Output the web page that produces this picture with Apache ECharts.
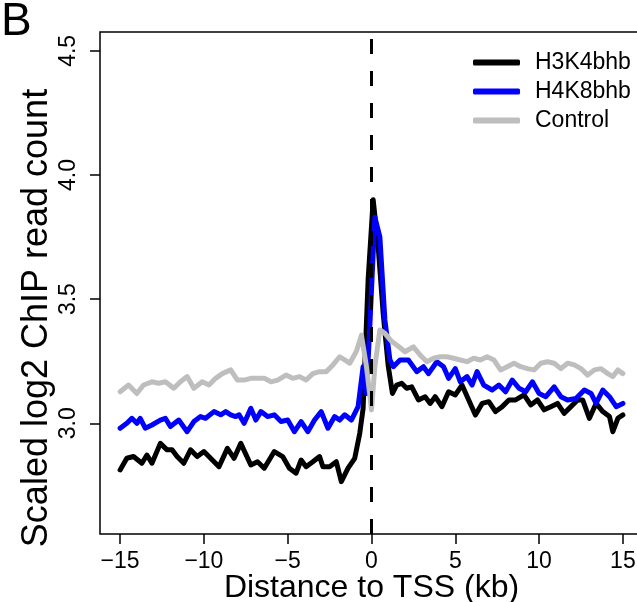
<!DOCTYPE html>
<html>
<head>
<meta charset="utf-8">
<script src="https://cdn.jsdelivr.net/npm/echarts@6/dist/echarts.min.js"></script>
<style>html,body{margin:0;padding:0;background:#fff;}#c{width:637px;height:602px;}</style>
</head>
<body>
<div id="c"></div>
<script>
// ---- data ----
const xTicks = [-15, -10, -5, 0, 5, 10, 15];
const yTicks = [3.0, 3.5, 4.0, 4.5];
const seriesNames = ['H3K4bhb', 'H4K8bhb', 'Control'];

const h3x = [-15,-14.6,-14.2,-13.7,-13.4,-13.1,-12.6,-12.2,-11.9,-11.6,-11.2,-10.8,-10.4,-10.0,-9.6,-9.1,-8.6,-8.2,-7.8,-7.2,-6.8,-6.4,-5.8,-5.3,-4.9,-4.5,-4.2,-3.9,-3.5,-3.1,-2.9,-2.5,-2.1,-1.8,-1.4,-1.0,-0.7,-0.5,-0.2,0.1,0.4,0.7,1.0,1.25,1.5,1.8,2.1,2.4,2.8,3.2,3.5,3.8,4.2,4.6,5.0,5.4,5.8,6.2,6.6,7.0,7.4,7.8,8.2,8.6,9.1,9.5,9.9,10.3,10.7,11.1,11.5,11.9,12.3,12.6,13.0,13.4,13.8,14.2,14.4,14.7,15.0];
const h3y = [2.812,2.859,2.866,2.839,2.872,2.839,2.919,2.893,2.893,2.866,2.839,2.893,2.866,2.886,2.859,2.825,2.899,2.859,2.919,2.832,2.845,2.819,2.886,2.866,2.819,2.799,2.852,2.825,2.845,2.866,2.825,2.825,2.845,2.765,2.819,2.859,2.96,3.06,3.58,3.90,3.71,3.44,3.23,3.12,3.154,3.161,3.141,3.147,3.094,3.107,3.08,3.107,3.067,3.127,3.114,3.154,3.094,3.033,3.08,3.087,3.047,3.067,3.094,3.094,3.114,3.074,3.094,3.054,3.067,3.08,3.04,3.067,3.094,3.094,3.02,3.08,3.047,3.027,2.966,3.02,3.034];

const h4x = [-15,-14.6,-14.3,-14.0,-13.8,-13.5,-13.1,-12.6,-12.3,-12.0,-11.5,-11.0,-10.6,-10.2,-9.9,-9.4,-9.0,-8.7,-8.4,-8.1,-7.9,-7.6,-7.2,-6.9,-6.6,-6.2,-5.8,-5.4,-5.0,-4.6,-4.2,-3.8,-3.4,-3.0,-2.6,-2.2,-1.9,-1.6,-1.2,-0.8,-0.5,-0.3,-0.1,0.2,0.5,0.8,1.1,1.3,1.7,2.2,2.7,3.1,3.4,3.9,4.3,4.6,5.0,5.3,5.7,6.0,6.3,6.7,7.2,7.6,8.0,8.4,8.8,9.2,9.6,10.0,10.4,10.9,11.3,11.7,12.2,12.7,13.1,13.4,13.8,14.2,14.6,15.0];
const h4y = [2.98,3.0,3.02,3.0,3.02,2.98,2.993,3.013,3.02,2.987,3.013,2.966,3.007,3.027,3.02,3.047,3.034,3.047,3.034,3.027,3.034,3.0,3.06,3.013,3.047,3.027,3.034,3.007,3.013,2.966,3.007,2.966,3.013,3.047,2.98,3.027,3.013,3.034,3.013,3.067,3.228,3.12,3.39,3.83,3.751,3.416,3.255,3.228,3.255,3.255,3.208,3.228,3.2,3.248,3.228,3.181,3.22,3.167,3.188,3.154,3.208,3.154,3.134,3.154,3.127,3.174,3.141,3.127,3.167,3.12,3.107,3.147,3.107,3.094,3.1,3.134,3.12,3.08,3.134,3.107,3.067,3.08];

const ctx = [-15,-14.5,-14.0,-13.6,-13.1,-12.7,-12.3,-11.8,-11.4,-11.0,-10.6,-10.1,-9.7,-9.3,-8.9,-8.4,-8.0,-7.6,-7.2,-6.8,-6.4,-6.0,-5.6,-5.1,-4.7,-4.3,-3.9,-3.5,-3.1,-2.7,-2.3,-1.9,-1.6,-1.3,-0.9,-0.6,-0.3,0.0,0.2,0.5,0.8,1.2,1.5,2.0,2.5,2.9,3.3,3.7,4.1,4.5,4.9,5.3,5.7,6.1,6.5,6.9,7.3,7.7,8.1,8.5,8.9,9.3,9.7,10.1,10.5,10.9,11.3,11.7,12.1,12.5,12.9,13.3,13.7,14.1,14.4,14.7,15.0];
const cty = [3.127,3.154,3.12,3.154,3.167,3.161,3.167,3.141,3.167,3.188,3.141,3.167,3.154,3.181,3.2,3.215,3.174,3.174,3.181,3.181,3.181,3.167,3.174,3.194,3.181,3.188,3.174,3.2,3.208,3.208,3.235,3.268,3.255,3.242,3.29,3.355,3.228,3.054,3.228,3.376,3.362,3.33,3.315,3.288,3.308,3.275,3.248,3.262,3.268,3.268,3.262,3.255,3.248,3.262,3.255,3.268,3.255,3.215,3.228,3.242,3.228,3.22,3.215,3.242,3.248,3.242,3.22,3.242,3.235,3.22,3.194,3.215,3.22,3.2,3.188,3.215,3.2];

// ---- chart ----
const FONT = '"Liberation Sans", Arial, Helvetica, sans-serif';
const zip = (xs, ys) => xs.map((x, i) => [x, ys[i]]);
const fmtX = v => (v < 0 ? '\u2212' + Math.abs(v) : String(v));

const chart = echarts.init(document.getElementById('c'), null, {renderer: 'canvas'});
const lineCommon = {type: 'line', showSymbol: false, symbol: 'none', animation: false, silent: true};

chart.setOption({
  backgroundColor: '#fff',
  animation: false,
  textStyle: {fontFamily: FONT},
  grid: {left: 100, right: -6, top: 32, bottom: 68, show: true, borderColor: '#000', borderWidth: 1.5, backgroundColor: 'transparent',
    containLabel: false, outerBoundsMode: 'none'},
  xAxis: {
    type: 'value', min: -16.2, max: 16.2,
    name: 'Distance to TSS (kb)', nameLocation: 'middle', nameGap: 38, nameMoveOverlap: false,
    nameTextStyle: {fontSize: 32, color: '#000', fontFamily: FONT},
    axisLine: {show: false, onZero: false},
    axisTick: {show: true, length: 10, inside: false, customValues: xTicks, lineStyle: {color: '#000', width: 1.5}},
    axisLabel: {show: true, customValues: xTicks, formatter: fmtX, fontSize: 23, color: '#000', margin: 16, fontFamily: FONT},
    splitLine: {show: false}
  },
  yAxis: {
    type: 'value', min: 2.554, max: 4.576,
    name: 'Scaled log2 ChIP read count', nameLocation: 'middle', nameGap: 45, nameMoveOverlap: false,
    nameTextStyle: {fontSize: 36, color: '#000', fontFamily: FONT, padding: [0, 70, 0, 0]},
    axisLine: {show: false, onZero: false},
    axisTick: {show: true, length: 10, inside: false, customValues: yTicks, lineStyle: {color: '#000', width: 1.5}},
    axisLabel: {show: true, customValues: yTicks, rotate: 90, formatter: v => v.toFixed(1), fontSize: 23, color: '#000', margin: 20, fontFamily: FONT},
    splitLine: {show: false}
  },
  legend: {
    data: seriesNames, orient: 'vertical', left: 468, top: 46,
    itemWidth: 47, itemHeight: 6, itemGap: 6, icon: 'roundRect',
    textStyle: {fontSize: 23, color: '#000', fontFamily: FONT, padding: [0, 0, 0, 10]},
    selectedMode: false
  },
  graphic: [{type: 'text', left: 1, top: -1, style: {text: 'B', fontSize: 46, fill: '#000', fontFamily: FONT}}],
  series: [
    Object.assign({}, lineCommon, {name: seriesNames[0], data: zip(h3x, h3y), z: 2,
      color: '#000', lineStyle: {color: '#000', width: 5, cap: 'round', join: 'round'}}),
    Object.assign({}, lineCommon, {name: seriesNames[1], data: zip(h4x, h4y), z: 3,
      color: '#0000ff', lineStyle: {color: '#0000ff', width: 5, cap: 'round', join: 'round'}}),
    Object.assign({}, lineCommon, {name: seriesNames[2], data: zip(ctx, cty), z: 4,
      color: '#bebebe', lineStyle: {color: '#bebebe', width: 5, cap: 'round', join: 'round'},
      markLine: {silent: true, symbol: 'none', label: {show: false}, animation: false,
        lineStyle: {color: '#000', width: 3, type: [15, 17], cap: 'butt'},
        data: [{xAxis: 0}]}})
  ]
});
</script>
</body>
</html>
